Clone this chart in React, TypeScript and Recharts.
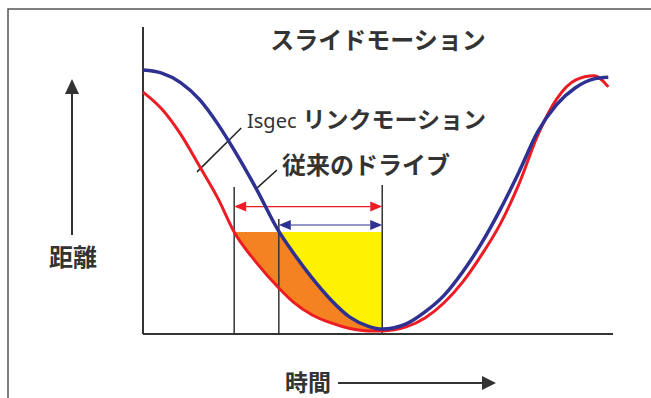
import React from "react";
import {
  Area,
  ComposedChart,
  Customized,
  Line,
  ReferenceLine,
  XAxis,
  YAxis,
} from "recharts";

// time axis (arbitrary units 0..100) and distance (0..100)
const times = [0, 4, 8, 12, 16, 19.4, 24, 28.9, 32, 36, 40, 44, 48, 50.9, 56, 60, 64, 68, 72, 76, 80, 84, 88, 92, 96, 99];
const linkMotion = [86.0, 85.0, 81.9, 76.4, 68.2, 59.9, 47.6, 33.4, 26.4, 18.2, 11.1, 5.5, 2.5, 1.6, 3.3, 7.2, 12.5, 20.2, 29.5, 40.5, 52.8, 65.9, 74.7, 80.2, 83.1, 83.6];
const conventional = [78.8, 73.3, 65.1, 54.7, 44.0, 33.2, 23.5, 15.0, 10.4, 6.2, 3.6, 1.8, 1.0, 1.0, 2.3, 5.2, 10.1, 16.9, 25.7, 35.8, 48.9, 64.8, 76.5, 82.7, 84.1, 80.5];

// vertical markers: conventional start, Isgec start, bottom dead centre
const markTimes = [19.4, 28.9, 50.9];
const markTops = [47.9, 37.5, 48.5];
const fillLevel = 33.2;
const spanLevels = [41.5, 35.5]; // red span, blue span

const RED = "#ed1c24";
const BLUE = "#2e3192";
const INK = "#333";

const data = times.map((t, i) => ({ t, link: linkMotion[i], conv: conventional[i] }));

const orangeData = data
  .filter((d) => d.t >= markTimes[0] && d.t <= markTimes[2])
  .map((d) => {
    const top = Math.min(d.link, fillLevel);
    return { t: d.t, band: [Math.min(d.conv, top), top] };
  });

const yellowData = data
  .filter((d) => d.t >= markTimes[1] && d.t <= markTimes[2])
  .map((d) => ({ t: d.t, band: [Math.min(d.link, fillLevel), fillLevel] }));

const spanArrow = (color: string) => (p: any) => {
  const { x1, y1, x2 } = p;
  const l = 12;
  const h = 5;
  return (
    <g>
      <line x1={x1 + l} y1={y1} x2={x2 - l} y2={y1} stroke={color} strokeWidth={1.2} />
      <polygon points={`${x1},${y1} ${x1 + l},${y1 - h} ${x1 + l},${y1 + h}`} fill={color} />
      <polygon points={`${x2},${y1} ${x2 - l},${y1 - h} ${x2 - l},${y1 + h}`} fill={color} />
    </g>
  );
};

const Annotations = () => (
  <g fontFamily="'Noto Sans CJK JP', sans-serif" fill={INK}>
    <path d="M8,398 L8,9 L651,9" stroke="#555" strokeWidth={1.5} fill="none" />
    <text x={378} y={49} textAnchor="middle" fontSize={24} fontWeight={700}>
      スライドモーション
    </text>
    <text x={247} y={128}>
      <tspan fontFamily="'Noto Sans', sans-serif" fontSize={20}>Isgec</tspan>
      <tspan dx={6} fontSize={23} fontWeight={700}>リンクモーション</tspan>
    </text>
    <text x={282} y={174} fontSize={24} fontWeight={700}>
      従来のドライブ
    </text>
    <text x={49} y={266} fontSize={24} fontWeight={700}>
      距離
    </text>
    <line x1={72} y1={235} x2={72} y2={92} stroke={INK} strokeWidth={2} />
    <polygon points="72,79 65,94 79,94" />
    <text x={285} y={391} fontSize={23} fontWeight={700}>
      時間
    </text>
    <line x1={338} y1={383} x2={484} y2={383} stroke={INK} strokeWidth={2} />
    <polygon points="496,383 482,376 482,390" />
  </g>
);

export default function App() {
  return (
    <div style={{ position: "absolute", left: 0, top: 0, background: "#fff" }}>
      <ComposedChart
        width={651}
        height={398}
        data={data}
        margin={{ top: 27, right: 38, bottom: 64, left: 143 }}
      >
        <XAxis
          type="number"
          dataKey="t"
          domain={[0, 100]}
          tick={false}
          tickLine={false}
          axisLine={false}
          height={0}
        />
        <YAxis
          type="number"
          domain={[0, 100]}
          tick={false}
          tickLine={false}
          axisLine={false}
          width={0}
        />
        {/* axis lines */}
        <ReferenceLine y={0} stroke={INK} strokeWidth={2} />
        <ReferenceLine x={0} stroke={INK} strokeWidth={2} />
        <Area
          data={orangeData}
          dataKey="band"
          type="monotone"
          fill="#f58220"
          fillOpacity={1}
          stroke="none"
          isAnimationActive={false}
        />
        <Area
          data={yellowData}
          dataKey="band"
          type="monotone"
          fill="#fff200"
          fillOpacity={1}
          stroke="none"
          isAnimationActive={false}
        />
        {markTimes.map((t, i) => (
          <ReferenceLine
            key={t}
            segment={[
              { x: t, y: 0 },
              { x: t, y: markTops[i] },
            ]}
            stroke={INK}
            strokeWidth={1.5}
          />
        ))}
        <ReferenceLine
          segment={[
            { x: markTimes[0], y: spanLevels[0] },
            { x: markTimes[2], y: spanLevels[0] },
          ]}
          shape={spanArrow(RED)}
        />
        <ReferenceLine
          segment={[
            { x: markTimes[1], y: spanLevels[1] },
            { x: markTimes[2], y: spanLevels[1] },
          ]}
          shape={spanArrow(BLUE)}
        />
        {/* leader lines from the labels to the curves */}
        <ReferenceLine
          segment={[
            { x: 11.5, y: 52.8 },
            { x: 20.9, y: 67.1 },
          ]}
          stroke="#222"
          strokeWidth={1.5}
        />
        <ReferenceLine
          segment={[
            { x: 24.3, y: 47.6 },
            { x: 28.5, y: 53.4 },
          ]}
          stroke="#222"
          strokeWidth={1.5}
        />
        <Line
          dataKey="conv"
          type="monotone"
          stroke={RED}
          strokeWidth={3}
          dot={false}
          activeDot={false}
          isAnimationActive={false}
        />
        <Line
          dataKey="link"
          type="monotone"
          stroke={BLUE}
          strokeWidth={3.5}
          dot={false}
          activeDot={false}
          isAnimationActive={false}
        />
        <Customized component={Annotations} />
      </ComposedChart>
    </div>
  );
}
